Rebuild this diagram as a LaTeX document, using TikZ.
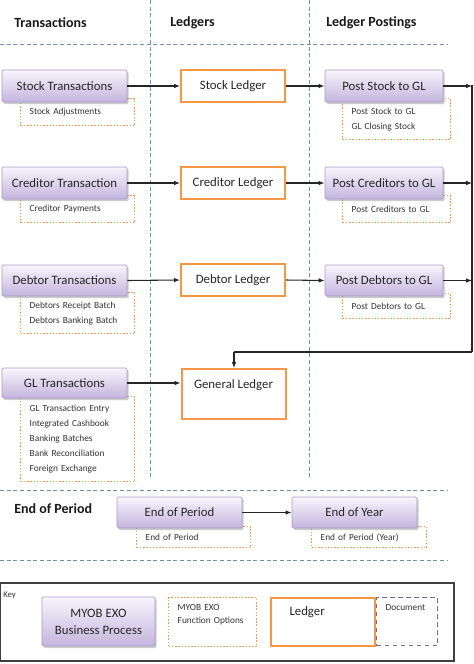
\documentclass[tikz,border=0pt]{standalone}
\usepackage{fontspec}
\setmainfont{Carlito}
\usetikzlibrary{arrows.meta,shadows}
\definecolor{procborder}{HTML}{A99DCB}
\definecolor{proctop}{HTML}{F8F5FC}
\definecolor{procbot}{HTML}{C3B5DD}
\definecolor{ledorange}{HTML}{F79646}
\definecolor{sepblue}{HTML}{7090B8}
\definecolor{docpurple}{HTML}{8064A2}
\definecolor{keygray}{HTML}{404040}
\begin{document}
\begin{tikzpicture}[x=0.75pt,y=-0.75pt,
 procbox/.style={draw=procborder, line width=0.6pt, top color=proctop, bottom color=procbot,
   rounded corners=1pt, drop shadow={shadow xshift=1.2pt, shadow yshift=-1.5pt, fill=black!50, opacity=0.4},
   inner sep=0pt, minimum width=93.75pt, minimum height=24pt, font=\fontsize{9.6}{12.75}\selectfont, text=black!85},
 postbox/.style={procbox, minimum width=88.5pt},
 ledbox/.style={draw=ledorange, line width=1.5pt, fill=white, inner sep=0pt, minimum width=78pt,
   minimum height=24pt, font=\fontsize{9.6}{11.5}\selectfont, text=black!85},
 optbox/.style={draw=ledorange, line width=1.1pt, dash pattern=on 1.1pt off 1.3pt, fill=white,
   anchor=north west, inner xsep=6.75pt, inner ysep=0pt, align=left,
   font=\fontsize{7}{11.5}\selectfont, text=black!80},
 sepline/.style={draw=sepblue, line width=0.7pt, dash pattern=on 3pt off 2pt},
 conn/.style={draw=black!85, line width=0.8pt, -{Latex[length=4.5pt,width=3.5pt]}},
 busline/.style={draw=black!85, line width=1.1pt},
 head/.style={anchor=west, inner sep=0pt, font=\fontsize{10.5}{12}\selectfont\bfseries, text=black!90}
]
\useasboundingbox (0,0) rectangle (474,664);

% separators
\draw[sepline] (150,0) -- (150,478);
\draw[sepline] (309,0) -- (309,478);
\draw[sepline] (0,44) -- (447,44);
\draw[sepline] (0,490) -- (447,490);
\draw[sepline] (0,560) -- (447,560);

% headers
\node[head] (hT) at (14,23) {Transactions};
\node[head] (hL) at (170,23) {Ledgers};
\node[head] (hP) at (326,23) {Ledger Postings};
\node[head] (hE) at (14,509) {End of Period};

% function option boxes
\node[optbox, text width=72pt, minimum height=20.25pt] (oSA) at (20,98) {Stock Adjustments};
\node[optbox, text width=67.5pt, minimum height=30.75pt] (oPS) at (342,98) {Post Stock to GL\\GL Closing Stock};
\node[optbox, text width=72pt, minimum height=20.25pt] (oCP) at (20,195) {Creditor Payments};
\node[optbox, text width=67.5pt, minimum height=20.25pt] (oPC) at (342,195) {Post Creditors to GL};
\node[optbox, text width=72pt, minimum height=30.75pt] (oDR) at (20,292) {Debtors Receipt Batch\\Debtors Banking Batch};
\node[optbox, text width=67.5pt, minimum height=18.75pt] (oPD) at (342,293) {Post Debtors to GL};
\node[optbox, text width=72pt, minimum height=63.75pt, font=\fontsize{7}{11.25}\selectfont] (oGL) at (20,396)
  {GL Transaction Entry\\Integrated Cashbook\\Banking Batches\\Bank Reconciliation\\Foreign Exchange};
\node[optbox, text width=72pt, minimum height=15.75pt] (oEP) at (136,526) {End of Period};
\node[optbox, text width=72.75pt, minimum height=15.75pt] (oEY) at (311,526) {End of Period (Year)};

% process boxes
\node[procbox] (st) at (64.5,86) {Stock Transactions};
\node[procbox] (ct) at (64.5,183) {Creditor Transaction};
\node[procbox, minimum height=23.25pt] (dt) at (64.5,280.5) {Debtor Transactions};
\node[procbox, minimum height=22.5pt] (gt) at (64.5,383) {GL Transactions};
\node[postbox] (pst) at (384,86) {Post Stock to GL};
\node[postbox] (pct) at (384,183) {Post Creditors to GL};
\node[postbox, minimum height=23.25pt] (pdt) at (384,280.5) {Post Debtors to GL};
\node[procbox, minimum height=23.25pt] (eop) at (179.5,512.5) {End of Period};
\node[procbox, minimum height=23.25pt] (eoy) at (354.5,512.5) {End of Year};

% ledgers
\node[ledbox] (sl) at (233,86) {Stock Ledger};
\node[ledbox] (cl) at (233,183) {Creditor Ledger};
\node[ledbox] (dl) at (233,280) {Debtor Ledger};
\node[ledbox, anchor=north, inner ysep=3pt, text height=11.25pt, text depth=20.25pt] (gl) at (233.5,368) {General Ledger};

% connectors
\draw[conn] (st.east) -- (sl.west);
\draw[conn] (sl.east) -- (pst.west);
\draw[conn] (ct.east) -- (cl.west);
\draw[conn] (cl.east) -- (pct.west);
\draw[conn] (dt.east) -- (dl.west);
\draw[conn] (dl.east) -- (pdt.west);
\draw[conn] (gt.east) -- (gt.east -| gl.west);
\draw[conn] (eop.east) -- (eoy.west);

\coordinate (b0) at (472,85);
\coordinate (b1) at (472,86);
\coordinate (b2) at (472,183);
\coordinate (b3) at (472,280.5);
\coordinate (b4) at (472,352);
\coordinate (b5) at (234,352);
\draw[conn] (pst.east) -- (b1);
\draw[conn] (pct.east) -- (b2);
\draw[conn] (pdt.east) -- (b3);
\draw[busline] (b0) -- (b4);
\draw[busline, line width=0.9pt] (b4) -- (b5);
\draw[conn] (b5) -- (b5 |- gl.north);

% key
\draw[draw=keygray, line width=1.2pt] (0.5,583) rectangle (454,661);
\node[anchor=west, inner sep=0pt, font=\fontsize{6.5}{8}\selectfont, text=black!80] (keylbl) at (3,595) {Key};
\node[procbox, minimum width=84.75pt, minimum height=36.75pt, align=center] (kproc) at (98.5,621.5) {MYOB EXO\\Business Process};
\node[optbox, inner ysep=3pt, text width=52.5pt, text height=6.75pt, text depth=24pt,
  font=\fontsize{7}{9.75}\selectfont] (kopt) at (168,597) {MYOB EXO\\Function Options};
\node[ledbox, anchor=north west, inner xsep=9.75pt, inner ysep=3pt, text width=50.25pt, align=left,
  text height=9.75pt, text depth=20.25pt, minimum height=36pt] (kled) at (270,597) {Ledger};
\node[draw=docpurple, line width=1pt, dash pattern=on 3.5pt off 2.5pt, anchor=north west,
  inner xsep=6.75pt, inner ysep=3pt, text width=32.25pt, align=left, text height=6.75pt, text depth=23.25pt,
  font=\fontsize{7}{9}\selectfont, text=black!80] (kdoc) at (376,597) {Document};
\end{tikzpicture}
\end{document}
